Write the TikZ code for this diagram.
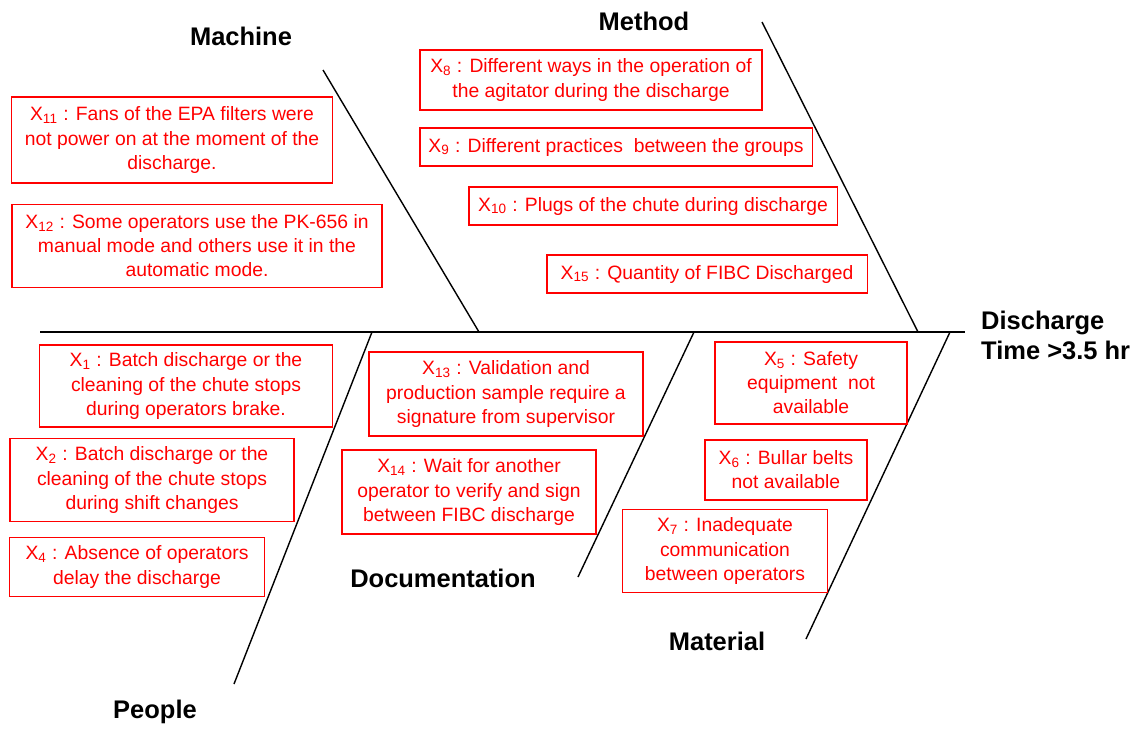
\documentclass[tikz,border=0pt]{standalone}
\usepackage{fontspec}
\setmainfont{Liberation Sans}
\usepackage{xcolor}

\newcommand{\cx}[1]{X\textsubscript{#1}}

\begin{document}
\begin{tikzpicture}[x=0.02cm,y=-0.02cm,
    cause/.style={draw=red, text=red, line width=1.1pt, align=center,
        inner sep=1pt, font=\fontsize{11}{13.7}\selectfont},
    bone/.style={black, line width=0.8pt},
    cat/.style={font=\fontsize{14.5}{17}\selectfont\bfseries}]
    \useasboundingbox (0,0) rectangle (1143,728);

    % spine and bones
    \coordinate (tail) at (40,332);
    \coordinate (head) at (965,332);
    \coordinate (mach-a) at (323,70);   \coordinate (mach-b) at (479,332);
    \coordinate (meth-a) at (762,22);   \coordinate (meth-b) at (918,332);
    \coordinate (peop-a) at (372,332);  \coordinate (peop-b) at (234,684);
    \coordinate (docu-a) at (694,332);  \coordinate (docu-b) at (578,577);
    \coordinate (matl-a) at (950,332);  \coordinate (matl-b) at (806,639);

    \draw[bone] (tail) -- (head);
    \draw[bone] (mach-a) -- (mach-b);
    \draw[bone] (meth-a) -- (meth-b);
    \draw[bone] (peop-a) -- (peop-b);
    \draw[bone] (docu-a) -- (docu-b);
    \draw[bone] (matl-a) -- (matl-b);

    % categories
    \node[cat] (machine) at (241,36) {Machine};
    \node[cat] (method) at (644,21) {Method};
    \node[cat] (people) at (155,712) {People};
    \node[cat] (docu) at (443,578) {Documentation};
    \node[cat] (material) at (717,641) {Material};
    \node[cat, anchor=west, align=left] (effect) at (975,335)
        {Discharge\\Time >3.5 hr};

    % machine
    \node[cause, minimum width=6.42cm, minimum height=1.72cm] (x11) at (172,140)
        {\cx{11} : Fans of the EPA filters were\\not power on at the moment of the\\discharge.};
    \node[cause, minimum width=7.40cm, minimum height=1.66cm] (x12) at (197,246)
        {\cx{12} : Some operators use the PK-656 in\\manual mode and others use it in the\\automatic mode.};

    % method
    \node[cause, minimum width=6.84cm, minimum height=1.20cm] (x8) at (591,80)
        {\cx{8} : Different ways in the operation of\\the agitator during the discharge};
    \node[cause, minimum width=7.86cm, minimum height=0.76cm] (x9) at (616,147)
        {\cx{9} : Different practices\ \ between the groups};
    \node[cause, minimum width=7.38cm, minimum height=0.76cm] (x10) at (653,206)
        {\cx{10} : Plugs of the chute during discharge};
    \node[cause, minimum width=6.42cm, minimum height=0.76cm] (x15) at (707,274)
        {\cx{15} : Quantity of FIBC Discharged};

    % people
    \node[cause, minimum width=5.86cm, minimum height=1.64cm] (x1) at (186,386)
        {\cx{1} : Batch discharge or the\\cleaning of the chute stops\\during operators brake.};
    \node[cause, minimum width=5.68cm, minimum height=1.66cm] (x2) at (152,480)
        {\cx{2} : Batch discharge or the\\cleaning of the chute stops\\during shift changes};
    \node[cause, minimum width=5.10cm, minimum height=1.18cm] (x4) at (137,567)
        {\cx{4} : Absence of operators\\delay the discharge};

    % documentation
    \node[cause, minimum width=5.48cm, minimum height=1.68cm] (x13) at (506,394)
        {\cx{13} : Validation and\\production sample require a\\signature from supervisor};
    \node[cause, minimum width=5.08cm, minimum height=1.68cm] (x14) at (469,492)
        {\cx{14} : Wait for another\\operator to verify and sign\\between FIBC discharge};

    % material
    \node[cause, minimum width=3.84cm, minimum height=1.64cm] (x5) at (811,383)
        {\cx{5} : Safety\\equipment\ \ not\\available};
    \node[cause, minimum width=3.24cm, minimum height=1.20cm] (x6) at (786,470)
        {\cx{6} : Bullar belts\\not available};
    \node[cause, minimum width=4.10cm, minimum height=1.66cm] (x7) at (725,551)
        {\cx{7} : Inadequate\\communication\\between operators};

\end{tikzpicture}
\end{document}
